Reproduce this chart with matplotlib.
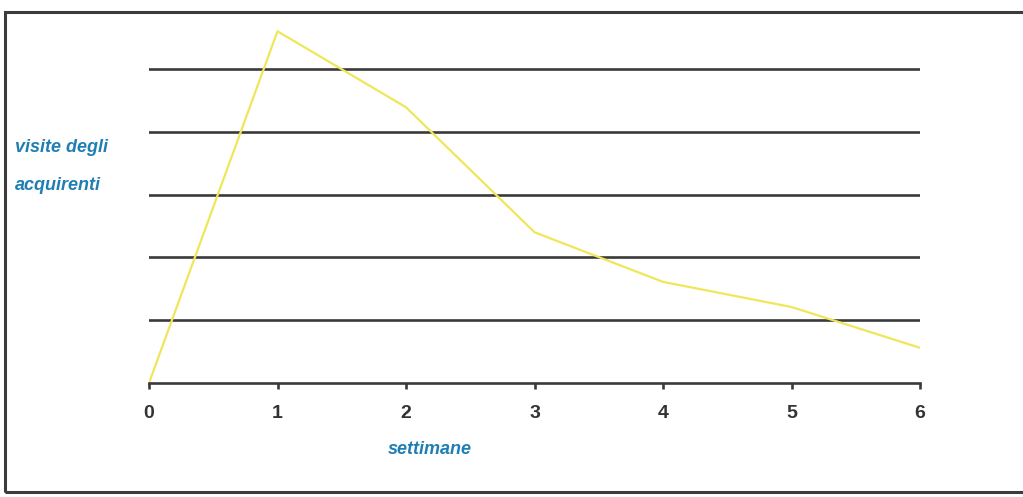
import matplotlib
matplotlib.use("Agg")
import matplotlib.pyplot as plt
from matplotlib.patches import Rectangle

weeks = [0, 1, 2, 3, 4, 5, 6]
visits = [0.0, 5.6, 4.39, 2.40, 1.61, 1.21, 0.56]
grid_levels = [1, 2, 3, 4, 5]
x_ticks = [0, 1, 2, 3, 4, 5, 6]
x_labels = ["0", "1", "2", "3", "4", "5", "6"]

W, H = 1023, 497
fig = plt.figure(figsize=(W / 100, H / 100), dpi=100)
fig.patch.set_facecolor("white")

# scanned frame around the chart
frame = Rectangle((5 / W, 5 / H), 1.2, 480 / H, transform=fig.transFigure,
                  fill=False, edgecolor="#3c3c3c", linewidth=2.2, clip_on=False)
fig.add_artist(frame)

ax = fig.add_axes([149 / W, 114 / H, (920 - 149) / W, (383 - 25) / H])
ax.set_xlim(0, 6)
ax.set_ylim(0, 5.7)

for g in grid_levels:
    ax.axhline(g, color="#3a3a3a", linewidth=1.9, zorder=1)

ax.plot(weeks, visits, color="#efe65a", linewidth=1.6, zorder=2)

for s in ["top", "right", "left"]:
    ax.spines[s].set_visible(False)
ax.spines["bottom"].set_color("#3a3a3a")
ax.spines["bottom"].set_linewidth(1.9)

ax.set_yticks([])
ax.set_xticks(x_ticks)
ax.set_xticklabels(x_labels, fontsize=14, fontweight="bold", color="#333333",
                   family=["Liberation Sans", "DejaVu Sans"])
ax.tick_params(axis="x", direction="out", length=4, width=1.9, color="#3a3a3a", pad=12)

blue = "#1f7fb3"
fam = ["Liberation Sans Narrow", "Liberation Sans", "DejaVu Sans"]
fig.text(15 / W, 1 - 148 / H, "visite degli", fontsize=13, fontweight="bold", style="italic",
         color=blue, va="center", ha="left", family=fam)
fig.text(15 / W, 1 - 186 / H, "acquirenti", fontsize=13, fontweight="bold", style="italic",
         color=blue, va="center", ha="left", family=fam)
fig.text(430 / W, 1 - 450 / H, "settimane", fontsize=13, fontweight="bold", style="italic",
         color=blue, va="center", ha="center", family=fam)

fig.savefig("out.png", dpi=100, facecolor="white")
